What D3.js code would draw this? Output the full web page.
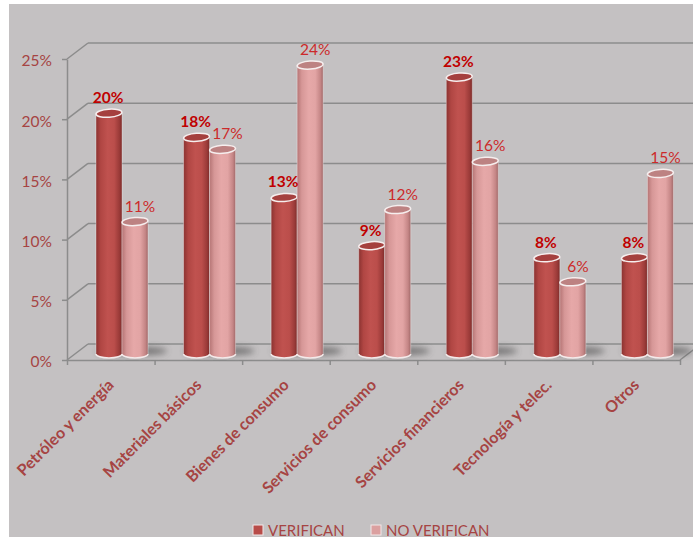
<!DOCTYPE html>
<html>
<head>
<meta charset="utf-8">
<script src="https://cdn.jsdelivr.net/npm/d3@7"></script>
<style>
  html, body { margin: 0; padding: 0; background: #ffffff; }
  svg { display: block; }
</style>
</head>
<body>
<script>
// Sector breakdown: share of companies that verify vs. do not verify
const categories = [
  "Petróleo y energía", "Materiales básicos", "Bienes de consumo",
  "Servicios de consumo", "Servicios financieros", "Tecnología y telec.", "Otros"
];
const seriesNames = ["VERIFICAN", "NO VERIFICAN"];
const verifican   = [20, 18, 13, 9, 23, 8, 8];
const noVerifican = [11, 17, 24, 12, 16, 6, 15];
const yTicks = [0, 5, 10, 15, 20, 25];

const W = 693, H = 537;
const svg = d3.select("body").append("svg").attr("width", W).attr("height", H);

// panel background
svg.append("rect").attr("x", 9).attr("y", 4).attr("width", W - 9).attr("height", H - 4)
  .attr("fill", "#c4c1c2");

const defs = svg.append("defs");
function cylGrad(id, stops) {
  const g = defs.append("linearGradient").attr("id", id)
    .attr("x1", "0%").attr("x2", "100%").attr("y1", "0%").attr("y2", "0%");
  stops.forEach(([o, c]) => g.append("stop").attr("offset", o).attr("stop-color", c));
}
cylGrad("gDark", [[0, "#8a3230"], [0.18, "#b04643"], [0.45, "#c0524f"], [0.7, "#bb4e4b"], [0.9, "#9a3a38"], [1, "#7a2b29"]]);
cylGrad("gLight", [[0, "#b57474"], [0.18, "#d69797"], [0.45, "#e6a8a8"], [0.7, "#e2a4a4"], [0.9, "#c48585"], [1, "#a06868"]]);
defs.append("filter").attr("id", "blur").attr("x", "-50%").attr("y", "-200%").attr("width", "200%").attr("height", "500%")
  .append("feGaussianBlur").attr("stdDeviation", 3);

// scales: front plane of the 3D box, plus a depth offset
const x = d3.scaleBand().domain(categories).range([67, 680]);
const xi = d3.scaleLinear().domain([0, categories.length]).range([67, 680]);
const xs = d3.scaleBand().domain(seriesNames).range([29, 81]);
const y = d3.scaleLinear().domain([0, 25]).range([360, 59]);
const depthX = 21, depthY = -16;          // full depth of the box
const barDX = 8, barDY = -6;              // where the cylinders stand inside the box

const gridColor = "#8c8c8c";
const grid = svg.append("g").attr("stroke", gridColor).attr("stroke-width", 1.5).attr("fill", "none");

// back wall gridlines + side-wall diagonals
yTicks.forEach(t => {
  grid.append("line").attr("x1", 67 + depthX).attr("x2", 680 + depthX + 20)
    .attr("y1", y(t) + depthY).attr("y2", y(t) + depthY);
  grid.append("line").attr("x1", 67).attr("y1", y(t))
    .attr("x2", 67 + depthX).attr("y2", y(t) + depthY);
});
// floor right edge
grid.append("line").attr("x1", 680).attr("y1", y(0)).attr("x2", 680 + depthX).attr("y2", y(0) + depthY);

// y axis (front edge)
const yAxis = svg.append("g").attr("transform", "translate(67,0)")
  .call(d3.axisLeft(y).tickValues(yTicks).tickFormat(d => d + "%").tickSize(5).tickSizeOuter(0).tickPadding(10));
yAxis.select(".domain").attr("stroke", gridColor).attr("stroke-width", 1.5);
yAxis.selectAll(".tick line").attr("stroke", gridColor).attr("stroke-width", 1.5);
yAxis.selectAll(".tick text").attr("fill", "#a64443").attr("font-family", "Lato, 'Open Sans', sans-serif")
  .attr("font-size", 15.5).attr("dy", "0.45em");

// x axis (front floor edge)
const xAxis = svg.append("g").attr("transform", `translate(0,${y(0)})`)
  .call(d3.axisBottom(xi).tickValues(d3.range(categories.length + 1)).tickFormat("").tickSize(5).tickSizeOuter(0));
xAxis.select(".domain").attr("stroke", gridColor).attr("stroke-width", 1.5);
xAxis.selectAll(".tick line").attr("stroke", gridColor).attr("stroke-width", 1.5);

// rows of bar data
const rows = [];
categories.forEach((c, i) => {
  rows.push({ cat: c, s: seriesNames[0], v: verifican[i] });
  rows.push({ cat: c, s: seriesNames[1], v: noVerifican[i] });
});
const bw = xs.bandwidth();
const rx = bw / 2, ry = 4;
const cx = d => x(d.cat) + xs(d.s) + rx;
const baseY = y(0) + barDY;
const topY = d => y(d.v) + barDY;

// floor shadows
svg.append("g").selectAll("ellipse").data(rows).join("ellipse")
  .attr("cx", d => cx(d) + 10).attr("cy", baseY - 3)
  .attr("rx", rx + 9).attr("ry", 4)
  .attr("fill", "#444444").attr("opacity", 0.6).attr("filter", "url(#blur)");

// cylinders
const bars = svg.append("g").selectAll("g").data(rows).join("g");
bars.append("path")
  .attr("d", d => {
    const l = cx(d) - rx, r = cx(d) + rx;
    return `M${l},${topY(d)} L${l},${baseY} A${rx},${ry} 0 0 0 ${r},${baseY} L${r},${topY(d)} Z`;
  })
  .attr("fill", d => d.s === seriesNames[0] ? "url(#gDark)" : "url(#gLight)");
bars.append("path")
  .attr("d", d => {
    const l = cx(d) - rx, r = cx(d) + rx;
    return `M${l},${baseY} A${rx},${ry} 0 0 0 ${r},${baseY}`;
  })
  .attr("fill", "none").attr("stroke", "#f4eaea").attr("stroke-width", 1.5);
bars.append("path")
  .attr("d", d => {
    const l = cx(d) - rx, r = cx(d) + rx;
    return `M${l},${topY(d)} L${l},${baseY} M${r},${topY(d)} L${r},${baseY}`;
  })
  .attr("fill", "none").attr("stroke", "#ffffff").attr("stroke-opacity", 0.35).attr("stroke-width", 1);
bars.append("ellipse")
  .attr("cx", d => cx(d)).attr("cy", d => topY(d))
  .attr("rx", rx).attr("ry", ry)
  .attr("transform", d => `rotate(-4,${cx(d)},${topY(d)})`)
  .attr("fill", d => d.s === seriesNames[0] ? "#a5403e" : "#bd8282")
  .attr("stroke", "#f6eeee").attr("stroke-width", 1.5);

// value labels
svg.append("g").selectAll("text").data(rows).join("text")
  .attr("x", d => cx(d) + (d.s === seriesNames[0] ? -1 : 5))
  .attr("y", d => topY(d) - 10)
  .attr("text-anchor", "middle")
  .attr("font-family", "Lato, 'Open Sans', sans-serif")
  .attr("font-size", 15.5)
  .attr("font-weight", d => d.s === seriesNames[0] ? "bold" : "normal")
  .attr("fill", d => d.s === seriesNames[0] ? "#c00000" : "#cc2a2a")
  .text(d => d.v + "%");

// category labels, rotated
svg.append("g").selectAll("text").data(categories).join("text")
  .attr("transform", c => `translate(${x(c) + x.bandwidth() / 2 + 4},${386}) rotate(-45)`)
  .attr("text-anchor", "end")
  .attr("font-family", "Lato, 'Open Sans', sans-serif")
  .attr("font-size", 16).attr("font-weight", "bold")
  .attr("fill", "#a64443")
  .text(c => c);

// legend
const legend = svg.append("g").attr("font-family", "Lato, 'Open Sans', sans-serif").attr("font-size", 15);
const legendX = [253, 371];
seriesNames.forEach((s, i) => {
  legend.append("rect").attr("x", legendX[i]).attr("y", 525).attr("width", 10).attr("height", 10)
    .attr("fill", i === 0 ? "#b84c49" : "#dba0a0").attr("stroke", "#f2e8e8").attr("stroke-width", 1);
  legend.append("text").attr("x", legendX[i] + 15).attr("y", 535.5)
    .attr("fill", "#a64443").text(s);
});
</script>
</body>
</html>
